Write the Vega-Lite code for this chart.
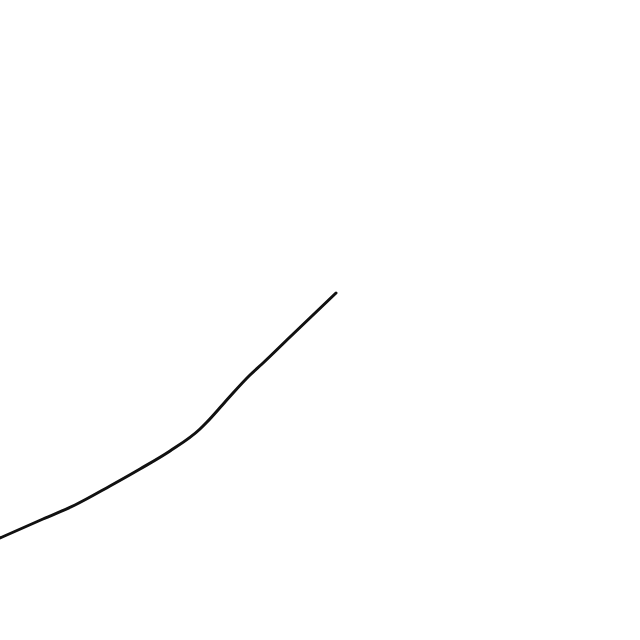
{
  "$schema": "https://vega.github.io/schema/vega-lite/v6.json",
  "autosize": {"type": "none"},
  "width": 640,
  "height": 640,
  "padding": 0,
  "data": {
    "values": [
      {"x": 0, "y": 102},
      {"x": 43, "y": 121},
      {"x": 75, "y": 135},
      {"x": 110, "y": 154},
      {"x": 140, "y": 171},
      {"x": 170, "y": 189},
      {"x": 200, "y": 211},
      {"x": 207, "y": 218},
      {"x": 225, "y": 238},
      {"x": 250, "y": 265},
      {"x": 262, "y": 276},
      {"x": 290, "y": 303},
      {"x": 336, "y": 347}
    ]
  },
  "mark": {"type": "line", "color": "#111111", "strokeWidth": 3, "interpolate": "monotone", "strokeCap": "round"},
  "encoding": {
    "x": {"field": "x", "type": "quantitative", "scale": {"domain": [0, 640], "nice": false, "zero": false}, "axis": null},
    "y": {"field": "y", "type": "quantitative", "scale": {"domain": [0, 640], "nice": false, "zero": false}, "axis": null}
  },
  "config": {"view": {"stroke": null}}
}
